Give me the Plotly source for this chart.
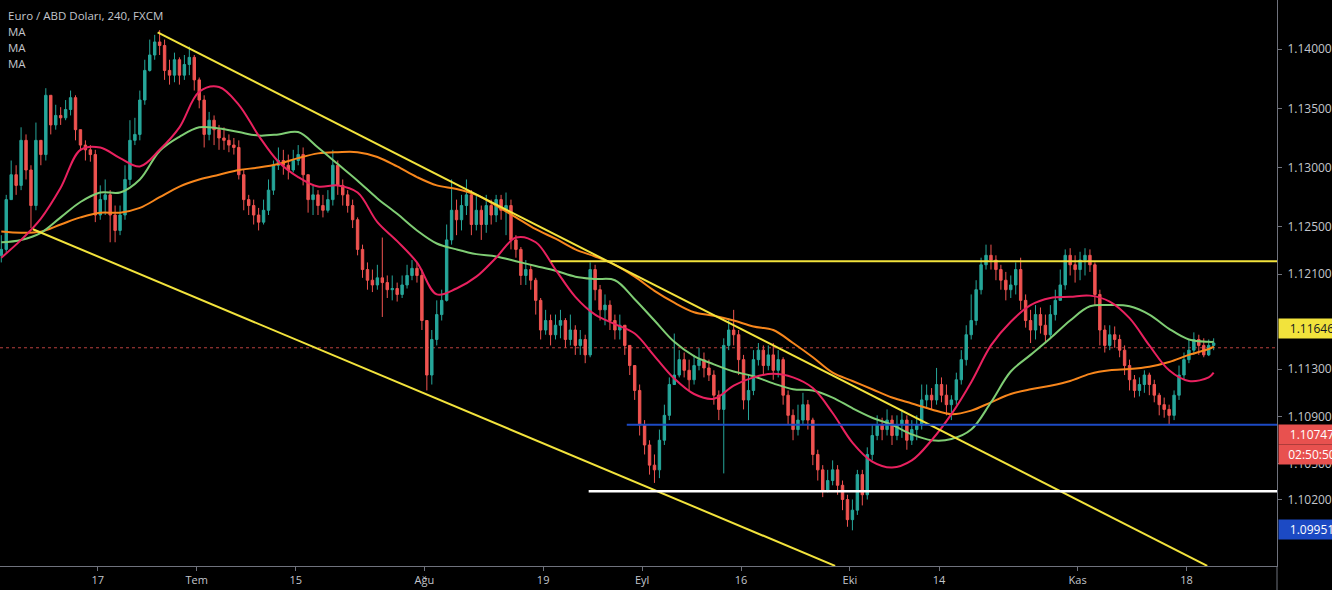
import plotly.graph_objects as go
import pandas as pd

# ---------------- data (EUR/USD, 2 candles per trading day) -------------
first_open = 1.1226
closes = [
    1.1231, 1.1273, 1.1294, 1.1285, 1.1323, 1.1298, 1.1268, 1.1323, 1.1311, 1.1361,
    1.1336, 1.1344, 1.1342, 1.1349, 1.1359, 1.1332, 1.1319, 1.1315, 1.1311, 1.1260,
    1.1273, 1.1277, 1.1260, 1.1247, 1.1260, 1.1290, 1.1323, 1.1328, 1.1357, 1.1382,
    1.1395, 1.1406, 1.1403, 1.1382, 1.1378, 1.1391, 1.1378, 1.1387, 1.1393, 1.1374,
    1.1357, 1.1328, 1.1340, 1.1332, 1.1325, 1.1323, 1.1319, 1.1317, 1.1294, 1.1273,
    1.1268, 1.1260, 1.1254, 1.1264, 1.1281, 1.1302, 1.1306, 1.1302, 1.1298, 1.1306,
    1.1311, 1.1294, 1.1273, 1.1277, 1.1268, 1.1264, 1.1273, 1.1302, 1.1285, 1.1277,
    1.1268, 1.1256, 1.1231, 1.1214, 1.1205, 1.1201, 1.1207, 1.1203, 1.1197, 1.1198,
    1.1193, 1.1201, 1.1209, 1.1215, 1.1209, 1.1171, 1.1125, 1.1155, 1.1176, 1.1188,
    1.1239, 1.1264, 1.1256, 1.1268, 1.1277, 1.1252, 1.1264, 1.1252, 1.1268, 1.1260,
    1.1273, 1.1264, 1.1268, 1.1239, 1.1231, 1.1209, 1.1214, 1.1205, 1.1188, 1.1163,
    1.1171, 1.1159, 1.1167, 1.1171, 1.1155, 1.1163, 1.1150, 1.1155, 1.1142, 1.1214,
    1.1197, 1.1180, 1.1184, 1.1171, 1.1163, 1.1167, 1.1150, 1.1133, 1.1112, 1.1083,
    1.1066, 1.1049, 1.1045, 1.1070, 1.1091, 1.1117, 1.1125, 1.1138, 1.1129, 1.1121,
    1.1133, 1.1138, 1.1131, 1.1125, 1.1108, 1.1096, 1.1150, 1.1163, 1.1159, 1.1138,
    1.1104, 1.1112, 1.1138, 1.1146, 1.1133, 1.1142, 1.1129, 1.1138, 1.1108, 1.1091,
    1.1079, 1.1087, 1.1100, 1.1087, 1.1058, 1.1045, 1.1028, 1.1036, 1.1045, 1.1032,
    1.1020, 1.1003, 1.1011, 1.1041, 1.1024, 1.1058, 1.1074, 1.1083, 1.1079, 1.1087,
    1.1074, 1.1083, 1.1087, 1.1070, 1.1079, 1.1083, 1.1104, 1.1108, 1.1104, 1.1117,
    1.1108, 1.1100, 1.1104, 1.1121, 1.1138, 1.1159, 1.1171, 1.1197, 1.1218, 1.1226,
    1.1222, 1.1214, 1.1205, 1.1197, 1.1201, 1.1214, 1.1188, 1.1171, 1.1163, 1.1176,
    1.1167, 1.1159, 1.1176, 1.1188, 1.1201, 1.1226, 1.1218, 1.1214, 1.1222, 1.1226,
    1.1218, 1.1193, 1.1163, 1.1150, 1.1159, 1.1155, 1.1146, 1.1133, 1.1121, 1.1112,
    1.1117, 1.1125, 1.1117, 1.1108, 1.1100, 1.1096, 1.1091, 1.1108, 1.1125, 1.1138,
    1.1146, 1.1155, 1.1150, 1.1142, 1.1150, 1.1152,
]
highs = [
    1.1243, 1.1277, 1.1306, 1.1302, 1.1334, 1.1328, 1.1302, 1.1338, 1.1323, 1.1367,
    1.1361, 1.1353, 1.1351, 1.1357, 1.1365, 1.1361, 1.1332, 1.1323, 1.1319, 1.1315,
    1.1285, 1.1290, 1.1281, 1.1268, 1.1268, 1.1302, 1.1340, 1.1342, 1.1365, 1.1391,
    1.1408, 1.1412, 1.1416, 1.1408, 1.1391, 1.1397, 1.1393, 1.1395, 1.1402, 1.1395,
    1.1376, 1.1361, 1.1347, 1.1344, 1.1336, 1.1334, 1.1328, 1.1325, 1.1323, 1.1298,
    1.1277, 1.1273, 1.1266, 1.1273, 1.1290, 1.1306, 1.1317, 1.1315, 1.1311, 1.1315,
    1.1319, 1.1317, 1.1294, 1.1285, 1.1281, 1.1277, 1.1281, 1.1315, 1.1306, 1.1290,
    1.1281, 1.1273, 1.1258, 1.1235, 1.1220, 1.1214, 1.1218, 1.1241, 1.1209, 1.1209,
    1.1203, 1.1209, 1.1218, 1.1222, 1.1220, 1.1214, 1.1171, 1.1163, 1.1188, 1.1197,
    1.1252, 1.1290, 1.1273, 1.1277, 1.1290, 1.1281, 1.1276, 1.1268, 1.1277, 1.1273,
    1.1277, 1.1277, 1.1279, 1.1273, 1.1243, 1.1233, 1.1222, 1.1218, 1.1207, 1.1190,
    1.1180, 1.1176, 1.1176, 1.1180, 1.1173, 1.1176, 1.1167, 1.1163, 1.1159, 1.1220,
    1.1218, 1.1201, 1.1193, 1.1188, 1.1176, 1.1176, 1.1167, 1.1150, 1.1133, 1.1117,
    1.1087, 1.1070, 1.1058, 1.1079, 1.1100, 1.1123, 1.1160, 1.1146, 1.1144, 1.1138,
    1.1142, 1.1148, 1.1144, 1.1138, 1.1129, 1.1112, 1.1156, 1.1173, 1.1180, 1.1163,
    1.1142, 1.1125, 1.1146, 1.1152, 1.1150, 1.1150, 1.1152, 1.1146, 1.1140, 1.1112,
    1.1096, 1.1100, 1.1110, 1.1104, 1.1089, 1.1062, 1.1049, 1.1045, 1.1053, 1.1049,
    1.1036, 1.1024, 1.1020, 1.1045, 1.1045, 1.1064, 1.1083, 1.1091, 1.1089, 1.1096,
    1.1091, 1.1091, 1.1096, 1.1091, 1.1087, 1.1091, 1.1117, 1.1117, 1.1114, 1.1131,
    1.1123, 1.1117, 1.1108, 1.1127, 1.1146, 1.1167, 1.1193, 1.1205, 1.1224, 1.1235,
    1.1235, 1.1226, 1.1218, 1.1212, 1.1209, 1.1220, 1.1224, 1.1193, 1.1180, 1.1184,
    1.1182, 1.1176, 1.1184, 1.1197, 1.1214, 1.1231, 1.1232, 1.1226, 1.1229, 1.1232,
    1.1231, 1.1220, 1.1197, 1.1167, 1.1167, 1.1166, 1.1159, 1.1150, 1.1138, 1.1125,
    1.1123, 1.1129, 1.1127, 1.1121, 1.1110, 1.1106, 1.1100, 1.1112, 1.1133, 1.1144,
    1.1155, 1.1161, 1.1159, 1.1156, 1.1155, 1.1156,
]
lows = [
    1.1220, 1.1228, 1.1273, 1.1277, 1.1281, 1.1290, 1.1249, 1.1264, 1.1302, 1.1306,
    1.1328, 1.1332, 1.1336, 1.1340, 1.1344, 1.1323, 1.1315, 1.1306, 1.1305, 1.1254,
    1.1256, 1.1260, 1.1237, 1.1237, 1.1243, 1.1256, 1.1285, 1.1319, 1.1323, 1.1353,
    1.1381, 1.1391, 1.1395, 1.1374, 1.1370, 1.1372, 1.1370, 1.1374, 1.1378, 1.1365,
    1.1350, 1.1317, 1.1323, 1.1319, 1.1315, 1.1315, 1.1313, 1.1311, 1.1290, 1.1264,
    1.1260, 1.1252, 1.1247, 1.1252, 1.1260, 1.1277, 1.1298, 1.1294, 1.1290, 1.1296,
    1.1302, 1.1285, 1.1262, 1.1260, 1.1260, 1.1258, 1.1262, 1.1268, 1.1277, 1.1268,
    1.1262, 1.1249, 1.1226, 1.1207, 1.1197, 1.1195, 1.1197, 1.1174, 1.1190, 1.1188,
    1.1187, 1.1190, 1.1198, 1.1205, 1.1203, 1.1163, 1.1112, 1.1117, 1.1150, 1.1171,
    1.1187, 1.1235, 1.1243, 1.1247, 1.1260, 1.1243, 1.1247, 1.1239, 1.1245, 1.1252,
    1.1254, 1.1256, 1.1243, 1.1231, 1.1224, 1.1201, 1.1201, 1.1197, 1.1176, 1.1155,
    1.1159, 1.1150, 1.1155, 1.1156, 1.1148, 1.1150, 1.1142, 1.1142, 1.1135, 1.1140,
    1.1188, 1.1171, 1.1167, 1.1163, 1.1155, 1.1155, 1.1142, 1.1125, 1.1104, 1.1074,
    1.1058, 1.1041, 1.1034, 1.1038, 1.1066, 1.1087, 1.1117, 1.1123, 1.1123, 1.1112,
    1.1117, 1.1129, 1.1123, 1.1120, 1.1100, 1.1087, 1.1042, 1.1146, 1.1150, 1.1125,
    1.1096, 1.1087, 1.1108, 1.1133, 1.1125, 1.1129, 1.1121, 1.1123, 1.1100, 1.1083,
    1.1070, 1.1074, 1.1083, 1.1079, 1.1049, 1.1036, 1.1022, 1.1026, 1.1032, 1.1024,
    1.1011, 1.0997, 1.0994, 1.1007, 1.1015, 1.1020, 1.1053, 1.1070, 1.1070, 1.1074,
    1.1066, 1.1070, 1.1072, 1.1062, 1.1066, 1.1070, 1.1079, 1.1098, 1.1096, 1.1100,
    1.1102, 1.1091, 1.1087, 1.1100, 1.1117, 1.1133, 1.1155, 1.1167, 1.1193, 1.1214,
    1.1214, 1.1205, 1.1197, 1.1188, 1.1190, 1.1193, 1.1180, 1.1165, 1.1152, 1.1155,
    1.1160, 1.1152, 1.1156, 1.1171, 1.1188, 1.1197, 1.1209, 1.1203, 1.1205, 1.1209,
    1.1212, 1.1184, 1.1150, 1.1144, 1.1146, 1.1148, 1.1140, 1.1125, 1.1112, 1.1106,
    1.1107, 1.1110, 1.1108, 1.1102, 1.1091, 1.1089, 1.1083, 1.1087, 1.1104, 1.1121,
    1.1135, 1.1142, 1.1142, 1.1140, 1.1141, 1.1146,
]

# moving averages, read every 4th candle (+ last)
ma_fast = [
    1.1224, 1.1239, 1.1257, 1.1283, 1.1315, 1.1317, 1.1308, 1.1301, 1.1315, 1.1334,
    1.1364, 1.1368, 1.1353, 1.1327, 1.1305, 1.1292, 1.1284, 1.1285, 1.1279, 1.1254,
    1.1238, 1.1220, 1.1193, 1.1198, 1.1208, 1.1224, 1.1241, 1.1237, 1.1214, 1.1191,
    1.1176, 1.1168, 1.1160, 1.1141, 1.1122, 1.1109, 1.1105, 1.1116, 1.1123, 1.1126,
    1.1123, 1.1114, 1.1093, 1.1068, 1.1052, 1.1047, 1.1053, 1.1070, 1.1092, 1.1119,
    1.1150, 1.1170, 1.1184, 1.1190, 1.1191, 1.1192, 1.1187, 1.1173, 1.1150, 1.1129,
    1.1120, 1.1123, 1.1127,
]
ma_mid = [
    1.1237, 1.1239, 1.1245, 1.1258, 1.1271, 1.1279, 1.1279, 1.1290, 1.1314, 1.1326,
    1.1334, 1.1333, 1.1330, 1.1327, 1.1328, 1.1330, 1.1317, 1.1303, 1.1289, 1.1274,
    1.1261, 1.1247, 1.1236, 1.1231, 1.1227, 1.1225, 1.1221, 1.1217, 1.1213, 1.1208,
    1.1206, 1.1205, 1.1189, 1.1171, 1.1153, 1.1141, 1.1134, 1.1128, 1.1124, 1.1118,
    1.1113, 1.1112, 1.1106, 1.1097, 1.1089, 1.1083, 1.1075, 1.1070, 1.1071, 1.1079,
    1.1102, 1.1128, 1.1142, 1.1156, 1.1171, 1.1183, 1.1184, 1.1183, 1.1176, 1.1164,
    1.1155, 1.1153, 1.1153,
]
ma_slow = [
    1.1246, 1.1245, 1.1246, 1.1252, 1.1258, 1.1262, 1.1262, 1.1266, 1.1275, 1.1284,
    1.1290, 1.1294, 1.1298, 1.1300, 1.1303, 1.1308, 1.1312, 1.1313, 1.1313, 1.1309,
    1.1301, 1.1292, 1.1285, 1.1282, 1.1277, 1.1268, 1.1258, 1.1248, 1.1240, 1.1231,
    1.1225, 1.1218, 1.1208, 1.1196, 1.1186, 1.1178, 1.1175, 1.1171, 1.1166, 1.1163,
    1.1152, 1.1140, 1.1127, 1.1120, 1.1113, 1.1106, 1.1101, 1.1096, 1.1092, 1.1095,
    1.1102, 1.1109, 1.1113, 1.1116, 1.1120, 1.1126, 1.1129, 1.1130, 1.1132, 1.1136,
    1.1142, 1.1147, 1.1149,
]
ma_idx = list(range(0, 245, 4)) + [245]

# drawn trend lines (bar index, price)
upper_channel_x = [31.6, 243.7]
upper_channel_y = [1.1414, 1.0964]
lower_channel_x = [6.4, 168.5]
lower_channel_y = [1.1248, 1.0964]
resist_x0, resist_level = 111.0, 1.1221      # yellow horizontal
blue_x0, blue_level = 126.4, 1.1083          # blue horizontal
white_x0, white_level = 118.7, 1.1027        # white horizontal
last_price_line = 1.1148                     # dotted red line

# axis labels
tick_dates = ["2019-06-17", "2019-07-01", "2019-07-15", "2019-08-01", "2019-08-19",
              "2019-09-02", "2019-09-16", "2019-10-01", "2019-10-14", "2019-11-01",
              "2019-11-18"]
tick_text = ["17", "Tem", "15", "Ağu", "19", "Eyl", "16", "Eki", "14", "Kas", "18"]
price_ticks = [1.1400, 1.1350, 1.1300, 1.1250, 1.1210, 1.1130, 1.1090, 1.1050, 1.1020]
price_tick_text = [f"{v:.5f}" for v in price_ticks]

tag_yellow = 1.11646
tag_red = 1.10747
tag_timer = "02:50:50"
tag_blue = 1.09951

# ---------------- figure ----------------
UP, DN = "#26a69a", "#ef5350"
AXIS = "#6f727c"
TXT = "#c3c6cc"
FONT = "Open Sans"

days = pd.bdate_range("2019-06-03", "2019-11-20")
bar_x = list(range(len(closes)))
opens = [first_open] + closes[:-1]
tick_pos = [2 * days.get_loc(pd.Timestamp(d)) - 0.5 for d in tick_dates]
x_min, x_max = -0.26, 257.8

fig = go.Figure()
fig.add_trace(go.Candlestick(
    x=bar_x, open=opens, high=highs, low=lows, close=closes,
    increasing=dict(line=dict(color=UP, width=1), fillcolor=UP),
    decreasing=dict(line=dict(color=DN, width=1), fillcolor=DN),
    whiskerwidth=0, showlegend=False, hoverinfo="skip"))

for vals, col in [(ma_slow, "#f7861c"), (ma_mid, "#7fcd74"), (ma_fast, "#e9215f")]:
    fig.add_trace(go.Scatter(x=ma_idx, y=vals, mode="lines",
                             line=dict(color=col, width=2, shape="spline", smoothing=1.0),
                             showlegend=False, hoverinfo="skip"))

line_specs = [
    (upper_channel_x, upper_channel_y, "#f2e33c", 2),
    (lower_channel_x, lower_channel_y, "#f2e33c", 2),
    ([resist_x0, x_max], [resist_level, resist_level], "#f2e33c", 2),
    ([blue_x0, x_max], [blue_level, blue_level], "#1c4ac4", 2),
    ([white_x0, x_max], [white_level, white_level], "#ffffff", 2.5),
]
for xs, ys, col, w in line_specs:
    fig.add_trace(go.Scatter(x=xs, y=ys, mode="lines", line=dict(color=col, width=w),
                             showlegend=False, hoverinfo="skip"))

fig.add_shape(type="line", xref="paper", x0=0, x1=1, yref="y",
              y0=last_price_line, y1=last_price_line,
              line=dict(color="#b8403e", width=1, dash="dot"), layer="below")
# separator continuing the price axis line down through the time axis
fig.add_shape(type="line", xref="paper", x0=1, x1=1, yref="paper", y0=0, y1=-0.05,
              line=dict(color=AXIS, width=1))

# legend texts
legend_lines = ["Euro / ABD Doları, 240, FXCM", "MA", "MA", "MA"]
for i, t in enumerate(legend_lines):
    fig.add_annotation(text=t, xref="paper", yref="paper", x=0, y=1, xanchor="left",
                       yanchor="middle", xshift=6, yshift=-15 - 16 * i, showarrow=False,
                       font=dict(family=FONT, size=11.5, color=TXT))

# price tags on the scale
tags = [
    (tag_yellow, f"{tag_yellow:.5f}", "#f2e33c", "#131722", 0),
    (tag_red, f"{tag_red:.5f}", "#e8514f", "#ffffff", 0),
    (tag_red, tag_timer, "#e8514f", "#ffffff", -20),
    (tag_blue, f"{tag_blue:.5f}", "#1c4ac4", "#ffffff", 0),
]
for val, txt, bg, fg, ys in tags:
    fig.add_annotation(text=txt, xref="paper", yref="y", x=1, y=val, xanchor="left",
                       yanchor="middle", xshift=1, yshift=ys, showarrow=False,
                       bgcolor=bg, borderpad=2, width=62, height=15, align="center",
                       font=dict(family=FONT, size=12, color=fg))

fig.update_layout(
    width=1332, height=590,
    margin=dict(l=0, r=52, t=0, b=24),
    paper_bgcolor="#000000", plot_bgcolor="#000000",
    showlegend=False,
    xaxis=dict(range=[x_min, x_max], showgrid=False, zeroline=False,
               showline=True, linecolor=AXIS, linewidth=1,
               ticks="outside", ticklen=4, tickcolor=AXIS,
               tickvals=tick_pos, ticktext=tick_text,
               tickfont=dict(family=FONT, size=11, color=TXT),
               rangeslider=dict(visible=False), fixedrange=True),
    yaxis=dict(side="right", range=[1.09639, 1.14414], showgrid=False, zeroline=False,
               showline=True, linecolor=AXIS, linewidth=1,
               ticks="outside", ticklen=4, tickcolor=AXIS,
               tickvals=price_ticks, ticktext=price_tick_text,
               tickfont=dict(family=FONT, size=12, color=TXT),
               ticklabelstandoff=3, fixedrange=True),
)

fig.write_html("out.html", config={"displayModeBar": False})
